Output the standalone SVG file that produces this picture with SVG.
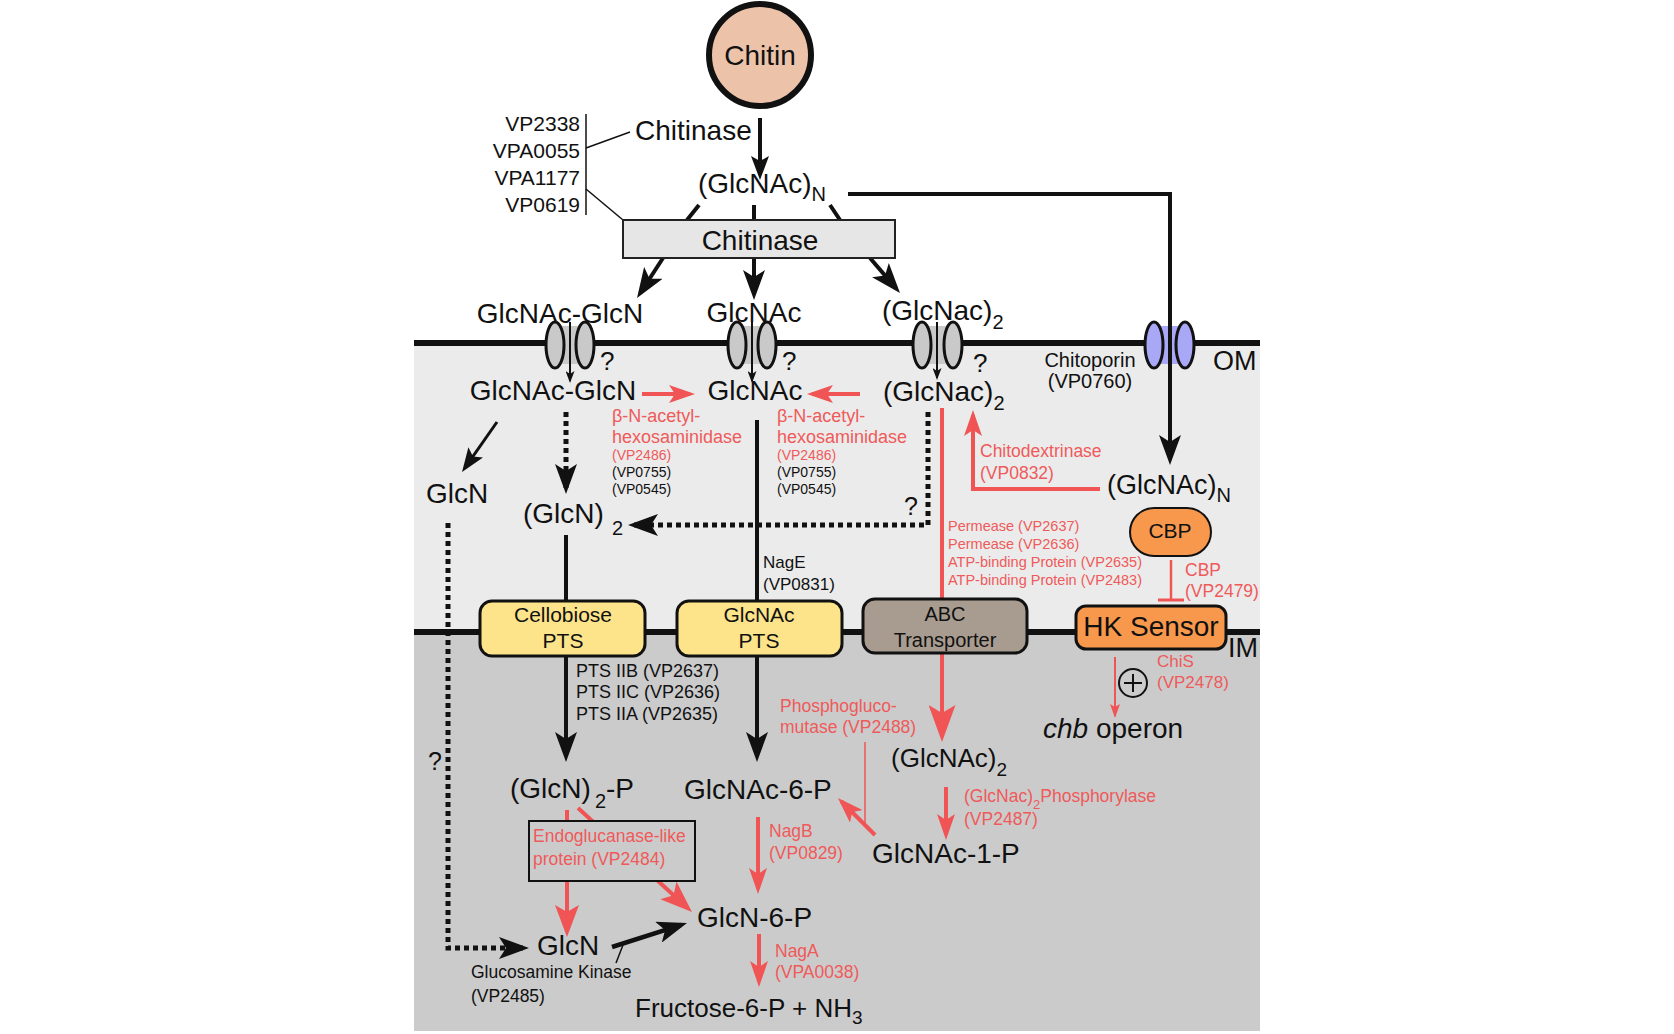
<svg xmlns="http://www.w3.org/2000/svg" width="1674" height="1034" viewBox="0 0 1674 1034">
<style>
text{font-family:"Liberation Sans",Arial,sans-serif;fill:#111}
.b{font-size:28px}
.m{font-size:21px}
.s{font-size:17.5px}
.xs{font-size:14px}
.r{fill:#ef5a5a}
.c{text-anchor:middle}
.e{text-anchor:end}
.k{stroke:#111;fill:none}
.rl{stroke:#f05454;fill:none}
.dot{stroke:#111;fill:none;stroke-width:5;stroke-dasharray:5 4}
.por{fill:#c9c9c9;stroke:#111;stroke-width:3}
.porb{fill:#a8a8f6;stroke:#111;stroke-width:3}
.pts{fill:#fde48a;stroke:#111;stroke-width:3}
.org{fill:#f8984c;stroke:#111}
</style>
<defs>
<marker id="bkL" markerUnits="userSpaceOnUse" markerWidth="30" markerHeight="22" refX="24" refY="11" orient="auto"><path d="M0,0 L30,11 L0,22 L7,11 Z" fill="#111"/></marker>
<marker id="bkM" markerUnits="userSpaceOnUse" markerWidth="24" markerHeight="18" refX="19" refY="9" orient="auto"><path d="M0,0 L24,9 L0,18 L5,9 Z" fill="#111"/></marker>
<marker id="bkS" markerUnits="userSpaceOnUse" markerWidth="12" markerHeight="9" refX="10" refY="4.5" orient="auto"><path d="M0,0 L12,4.5 L0,9 L3,4.5 Z" fill="#111"/></marker>
<marker id="rdX" markerUnits="userSpaceOnUse" markerWidth="37" markerHeight="27" refX="31" refY="13.5" orient="auto"><path d="M0,0 L37,13.5 L0,27 L8,13.5 Z" fill="#f05454"/></marker>
<marker id="rdL" markerUnits="userSpaceOnUse" markerWidth="32" markerHeight="24" refX="26" refY="12" orient="auto"><path d="M0,0 L32,12 L0,24 L7,12 Z" fill="#f05454"/></marker>
<marker id="rdM" markerUnits="userSpaceOnUse" markerWidth="26" markerHeight="18" refX="21" refY="9" orient="auto"><path d="M0,0 L26,9 L0,18 L6,9 Z" fill="#f05454"/></marker>
<marker id="rdS" markerUnits="userSpaceOnUse" markerWidth="14" markerHeight="10" refX="12" refY="5" orient="auto"><path d="M0,0 L14,5 L0,10 L3,5 Z" fill="#f05454"/></marker>
</defs>

<g id="background">
<rect x="414" y="343" width="846" height="289" fill="#ebebeb"/>
<rect x="414" y="632" width="846" height="399" fill="#cbcbcb"/>
<line x1="414" y1="343" x2="1260" y2="343" stroke="#111" stroke-width="6"/>
<line x1="414" y1="632" x2="1260" y2="632" stroke="#111" stroke-width="6"/>
<text x="1213" y="370" style="font-size:27px">OM</text>
<text x="1228" y="657" style="font-size:27px">IM</text>
</g>

<g id="chitin">
<circle cx="760" cy="55" r="51" fill="#ecc3a9" stroke="#111" stroke-width="6"/>
<text class="b c" x="760" y="65">Chitin</text>
</g>

<g id="chitinase-genes">
<text class="m e" x="580" y="131">VP2338</text>
<text class="m e" x="580" y="158">VPA0055</text>
<text class="m e" x="580" y="185">VPA1177</text>
<text class="m e" x="580" y="212">VP0619</text>
<line class="k" x1="586" y1="114" x2="586" y2="215" stroke-width="1.5"/>
<line class="k" x1="586" y1="148" x2="630" y2="132" stroke-width="1.5"/>
<line class="k" x1="586" y1="189" x2="623" y2="220" stroke-width="1.5"/>
</g>

<g id="chitinase-label"><text class="b" x="635" y="140">Chitinase</text></g>

<g id="glcnac-n-top"><text class="b" x="698" y="193">(GlcNAc)<tspan dy="8" style="font-size:20px">N</tspan></text></g>

<g id="porin-glcnac-glcn">
<rect x="555" y="326" width="30" height="38" fill="#c9c9c9"/>
<ellipse class="por" cx="555" cy="345" rx="9" ry="23"/>
<ellipse class="por" cx="585" cy="345" rx="9" ry="23"/>
</g>
<g id="porin-glcnac">
<rect x="737" y="326" width="30" height="38" fill="#c9c9c9"/>
<ellipse class="por" cx="737" cy="345" rx="9" ry="23"/>
<ellipse class="por" cx="767" cy="345" rx="9" ry="23"/>
</g>
<g id="porin-glcnac2">
<rect x="922" y="326" width="31" height="38" fill="#c9c9c9"/>
<ellipse class="por" cx="922" cy="345" rx="9" ry="23"/>
<ellipse class="por" cx="953" cy="345" rx="9" ry="23"/>
</g>
<g id="chitoporin">
<rect x="1154" y="326" width="31" height="38" fill="#a8a8f6"/>
<ellipse class="porb" cx="1154" cy="345" rx="9" ry="23"/>
<ellipse class="porb" cx="1185" cy="345" rx="9" ry="23"/>
<text class="c" x="1090" y="367" style="font-size:20px">Chitoporin</text>
<text class="c" x="1090" y="388" style="font-size:20px">(VP0760)</text>
</g>

<g id="connectors">
<line class="k" x1="760" y1="118" x2="760" y2="175" stroke-width="4" marker-end="url(#bkM)"/>
<line class="k" x1="699" y1="205" x2="687" y2="220" stroke-width="4"/>
<line class="k" x1="754" y1="205" x2="754" y2="220" stroke-width="4"/>
<line class="k" x1="830" y1="205" x2="840" y2="220" stroke-width="4"/>
<line class="k" x1="663" y1="258" x2="640.3" y2="293" stroke-width="4" marker-end="url(#bkL)"/>
<line class="k" x1="754" y1="258" x2="754" y2="294" stroke-width="4" marker-end="url(#bkL)"/>
<line class="k" x1="870" y1="258" x2="896.1" y2="288.4" stroke-width="4" marker-end="url(#bkL)"/>
<path class="k" d="M848,194 H1170 V459" stroke-width="4" marker-end="url(#bkL)"/>
<line class="k" x1="570" y1="322" x2="570" y2="381" stroke-width="2" marker-end="url(#bkS)"/>
<line class="k" x1="752" y1="322" x2="752" y2="381" stroke-width="2" marker-end="url(#bkS)"/>
<line class="k" x1="937" y1="322" x2="937" y2="378" stroke-width="2" marker-end="url(#bkS)"/>
<line class="rl" x1="642" y1="394" x2="690" y2="394" stroke-width="4" marker-end="url(#rdM)"/>
<line class="rl" x1="860" y1="394" x2="812" y2="394" stroke-width="4" marker-end="url(#rdM)"/>
<line class="k" x1="497" y1="422" x2="464.9" y2="467.9" stroke-width="3" marker-end="url(#bkM)"/>
<line class="dot" x1="566" y1="412" x2="566" y2="488" marker-end="url(#bkL)"/>
<path class="dot" d="M928,412 V525 H634" marker-end="url(#bkL)"/>
<line class="k" x1="757" y1="420" x2="757" y2="756" stroke-width="4" marker-end="url(#bkL)"/>
<line class="k" x1="566" y1="535" x2="566" y2="756" stroke-width="4" marker-end="url(#bkL)"/>
<line class="rl" x1="942" y1="408" x2="942" y2="736" stroke-width="4" marker-end="url(#rdX)"/>
<path class="rl" d="M1100,489 H973 V415" stroke-width="4" marker-end="url(#rdM)"/>
<line class="rl" x1="1171" y1="560" x2="1171" y2="600" stroke-width="2.5"/>
<line class="rl" x1="1158" y1="600" x2="1184" y2="600" stroke-width="3"/>
<line class="rl" x1="1115" y1="657" x2="1115" y2="716" stroke-width="2" marker-end="url(#rdS)"/>
<path class="dot" d="M448,523 V948 H523" marker-end="url(#bkL)"/>
<line class="rl" x1="865" y1="742" x2="865" y2="827" stroke-width="1.5"/>
<line class="rl" x1="875" y1="835" x2="841.5" y2="801.5" stroke-width="4" marker-end="url(#rdM)"/>
<line class="rl" x1="946" y1="787" x2="946" y2="835" stroke-width="4" marker-end="url(#rdM)"/>
<line class="rl" x1="567" y1="810" x2="567" y2="931" stroke-width="4" marker-end="url(#rdL)"/>
<line class="rl" x1="578" y1="808" x2="687.6" y2="908" stroke-width="4" marker-end="url(#rdL)"/>
<line class="k" x1="612" y1="947" x2="681.3" y2="924.8" stroke-width="4.5" marker-end="url(#bkL)"/>
<line class="rl" x1="758" y1="817" x2="758" y2="889" stroke-width="4" marker-end="url(#rdM)"/>
<line class="rl" x1="759" y1="934" x2="759" y2="982" stroke-width="4" marker-end="url(#rdM)"/>
<line class="k" x1="616" y1="963" x2="623" y2="945" stroke-width="1.5"/>
</g>

<g id="chitinase-box">
<rect x="623" y="220" width="272" height="38" fill="#e6e6e6" stroke="#222" stroke-width="2"/>
<text class="b c" x="760" y="250">Chitinase</text>
</g>

<g id="glcnac-glcn-out"><text class="b c" x="560" y="323">GlcNAc-GlcN</text></g>
<g id="glcnac-out"><text class="b c" x="754" y="322">GlcNAc</text></g>
<g id="glcnac2-out"><text class="b" x="882" y="320">(GlcNac)<tspan dy="9" style="font-size:20px">2</tspan></text></g>
<g id="q-marks">
<text x="600" y="370" style="font-size:26px">?</text>
<text x="782" y="370" style="font-size:26px">?</text>
<text x="973" y="372" style="font-size:26px">?</text>
<text x="904" y="515" style="font-size:25px">?</text>
<text x="428" y="770" style="font-size:25px">?</text>
</g>

<g id="glcnac-glcn-in"><text class="b c" x="553" y="400">GlcNAc-GlcN</text></g>
<g id="glcnac-in"><text class="b c" x="755" y="400">GlcNAc</text></g>
<g id="glcnac2-in"><text class="b" x="883" y="401">(GlcNac)<tspan dy="9" style="font-size:20px">2</tspan></text></g>

<g id="hexosaminidase-1">
<text class="s r" x="612" y="422" style="font-size:18px">β-N-acetyl-</text>
<text class="s r" x="612" y="443" style="font-size:18px">hexosaminidase</text>
<text class="xs r" x="612" y="460">(VP2486)</text>
<text class="xs" x="612" y="477">(VP0755)</text>
<text class="xs" x="612" y="494">(VP0545)</text>
</g>
<g id="hexosaminidase-2">
<text class="s r" x="777" y="422" style="font-size:18px">β-N-acetyl-</text>
<text class="s r" x="777" y="443" style="font-size:18px">hexosaminidase</text>
<text class="xs r" x="777" y="460">(VP2486)</text>
<text class="xs" x="777" y="477">(VP0755)</text>
<text class="xs" x="777" y="494">(VP0545)</text>
</g>

<g id="glcn-peri"><text class="b c" x="457" y="503">GlcN</text></g>
<g id="glcn2"><text class="b" x="523" y="523">(GlcN)<tspan dx="8" dy="12" style="font-size:20px">2</tspan></text></g>

<g id="chitodextrinase">
<text class="s r" x="980" y="457">Chitodextrinase</text>
<text class="s r" x="980" y="479">(VP0832)</text>
</g>
<g id="glcnac-n-in"><text x="1107" y="494" style="font-size:27px">(GlcNAc)<tspan dy="8" style="font-size:20px">N</tspan></text></g>

<g id="abc-genes">
<text class="r" x="948" y="531" style="font-size:14.5px">Permease (VP2637)</text>
<text class="r" x="948" y="549" style="font-size:14.5px">Permease (VP2636)</text>
<text class="r" x="948" y="567" style="font-size:14.5px">ATP-binding Protein (VP2635)</text>
<text class="r" x="948" y="585" style="font-size:14.5px">ATP-binding Protein (VP2483)</text>
</g>

<g id="cbp">
<rect class="org" x="1130" y="508" width="81" height="48" rx="24" stroke-width="2"/>
<text class="c m" x="1170" y="538">CBP</text>
<text class="s r" x="1185" y="576">CBP</text>
<text class="s r" x="1185" y="597">(VP2479)</text>
</g>

<g id="hk-sensor">
<rect class="org" x="1076" y="606" width="150" height="43" rx="10" stroke-width="3"/>
<text class="b c" x="1151" y="636">HK Sensor</text>
</g>

<g id="abc-transporter">
<rect x="863" y="599" width="164" height="54" rx="12" fill="#a89c90" stroke="#111" stroke-width="3"/>
<text class="c" x="945" y="621" style="font-size:20px">ABC</text>
<text class="c" x="945" y="647" style="font-size:20px">Transporter</text>
</g>

<g id="cellobiose-pts">
<rect class="pts" x="480" y="601" width="165" height="55" rx="12"/>
<text class="c m" x="563" y="622">Cellobiose</text>
<text class="c m" x="563" y="648">PTS</text>
</g>
<g id="glcnac-pts">
<rect class="pts" x="677" y="601" width="165" height="55" rx="12"/>
<text class="c m" x="759" y="622">GlcNAc</text>
<text class="c m" x="759" y="648">PTS</text>
</g>

<g id="nage">
<text x="763" y="568" style="font-size:17px">NagE</text>
<text x="763" y="590" style="font-size:17px">(VP0831)</text>
</g>
<g id="pts-genes">
<text x="576" y="677" style="font-size:18px">PTS IIB (VP2637)</text>
<text x="576" y="698" style="font-size:18px">PTS IIC (VP2636)</text>
<text x="576" y="720" style="font-size:18px">PTS IIA (VP2635)</text>
</g>

<g id="chis">
<text class="r" x="1157" y="667" style="font-size:17px">ChiS</text>
<text class="r" x="1157" y="688" style="font-size:17px">(VP2478)</text>
<circle cx="1133" cy="683" r="14" fill="none" stroke="#111" stroke-width="2"/>
<path d="M1124,683 H1142 M1133,674 V692" stroke="#111" stroke-width="2"/>
</g>
<g id="chb-operon"><text class="b" x="1043" y="738"><tspan font-style="italic">chb</tspan> operon</text></g>

<g id="phosphoglucomutase">
<text class="s r" x="780" y="712">Phosphogluco-</text>
<text class="s r" x="780" y="733">mutase (VP2488)</text>
</g>
<g id="glcnac2-cyto"><text x="891" y="767" style="font-size:26px">(GlcNAc)<tspan dy="9" style="font-size:19px">2</tspan></text></g>
<g id="phosphorylase">
<text class="s r" x="964" y="802">(GlcNac)<tspan dy="7" style="font-size:13px">2</tspan><tspan dy="-7">Phosphorylase</tspan></text>
<text class="s r" x="964" y="825">(VP2487)</text>
</g>
<g id="glcnac-1-p"><text class="b" x="872" y="863">GlcNAc-1-P</text></g>
<g id="glcnac-6-p"><text class="b" x="684" y="799">GlcNAc-6-P</text></g>
<g id="glcn2-p"><text class="b" x="510" y="798">(GlcN)<tspan dx="4" dy="10" style="font-size:20px">2</tspan><tspan dy="-10">-P</tspan></text></g>

<g id="endoglucanase">
<rect x="529" y="821" width="166" height="60" fill="#cbcbcb" stroke="#111" stroke-width="2"/>
<text class="s r" x="533" y="842">Endoglucanase-like</text>
<text class="s r" x="533" y="865">protein (VP2484)</text>
</g>

<g id="glcn-cyto"><text class="b" x="537" y="955">GlcN</text></g>
<g id="glucosamine-kinase">
<text class="s" x="471" y="978">Glucosamine Kinase</text>
<text class="s" x="471" y="1002">(VP2485)</text>
</g>
<g id="glcn-6-p"><text class="b" x="697" y="927">GlcN-6-P</text></g>
<g id="nagb">
<text class="s r" x="769" y="837">NagB</text>
<text class="s r" x="769" y="859">(VP0829)</text>
</g>
<g id="naga">
<text class="s r" x="775" y="957">NagA</text>
<text class="s r" x="775" y="978">(VPA0038)</text>
</g>
<g id="fructose"><text x="635" y="1017" style="font-size:26px">Fructose-6-P + NH<tspan dy="7" style="font-size:19px">3</tspan></text></g>
</svg>
